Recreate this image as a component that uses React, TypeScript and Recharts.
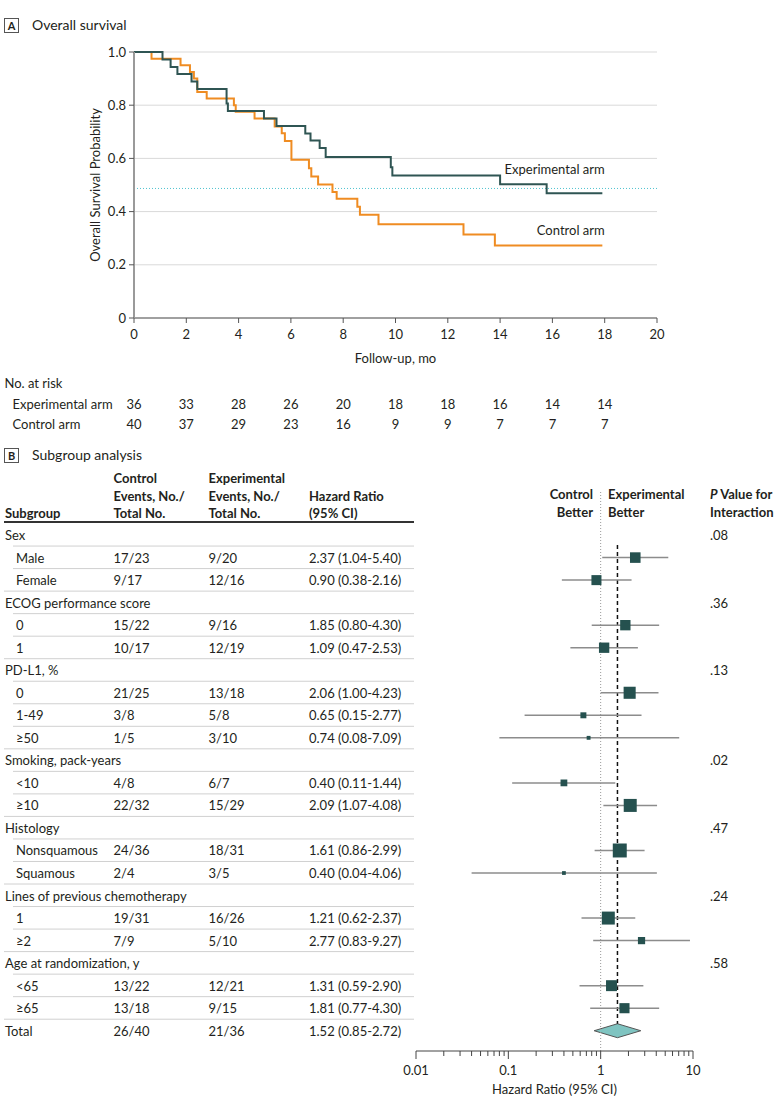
import React from "react";
import {
  LineChart,
  Line,
  XAxis,
  YAxis,
  CartesianGrid,
  ReferenceLine,
  ReferenceDot,
  ComposedChart,
  Scatter,
  Area,
} from "recharts";

const FONT = "Lato, 'DejaVu Sans', sans-serif";
const INK = "#231f20";
const EXP_COLOR = "#2f5553";
const CTL_COLOR = "#ef8c22";
const SQUARE = "#25514f";

// Panel A: Kaplan-Meier steps (months, survival after the step)
const expMonths = [0, 1.09, 1.4, 1.66, 2.2, 2.42, 3.54, 3.59, 4.97, 5.45, 6.55, 6.75, 7.1, 7.33, 9.82, 9.88, 14.0, 15.78, 17.91];
const expSurvival = [1, 0.972, 0.944, 0.917, 0.889, 0.861, 0.806, 0.778, 0.75, 0.722, 0.694, 0.667, 0.639, 0.605, 0.567, 0.536, 0.503, 0.469, 0.469];
const ctlMonths = [0, 0.67, 1.78, 2.14, 2.29, 2.42, 2.78, 3.82, 3.89, 4.61, 5.38, 5.65, 5.77, 6.02, 6.69, 6.78, 7.04, 7.59, 7.75, 8.54, 8.64, 9.35, 12.6, 13.8, 17.91];
const ctlSurvival = [1, 0.975, 0.95, 0.925, 0.9, 0.85, 0.825, 0.8, 0.775, 0.75, 0.72, 0.695, 0.665, 0.595, 0.563, 0.532, 0.502, 0.474, 0.448, 0.418, 0.388, 0.352, 0.314, 0.273, 0.273];
const medianLine = 0.487;
const kmTicks = [0, 2, 4, 6, 8, 10, 12, 14, 16, 18, 20];
const survTicks = [0, 0.2, 0.4, 0.6, 0.8, 1.0];
const expAtRisk = [36, 33, 28, 26, 20, 18, 18, 16, 14, 14];
const ctlAtRisk = [40, 37, 29, 23, 16, 9, 9, 7, 7, 7];

// Panel B: subgroup table
const subgroups = ["Sex", "Male", "Female", "ECOG performance score", "0", "1", "PD-L1, %", "0", "1-49", "≥50", "Smoking, pack-years", "<10", "≥10", "Histology", "Nonsquamous", "Squamous", "Lines of previous chemotherapy", "1", "≥2", "Age at randomization, y", "<65", "≥65", "Total"];
const isGroupRow = [true, false, false, true, false, false, true, false, false, false, true, false, false, true, false, false, true, false, false, true, false, false, true];
const controlEvents = ["", "17/23", "9/17", "", "15/22", "10/17", "", "21/25", "3/8", "1/5", "", "4/8", "22/32", "", "24/36", "2/4", "", "19/31", "7/9", "", "13/22", "13/18", "26/40"];
const experimentalEvents = ["", "9/20", "12/16", "", "9/16", "12/19", "", "13/18", "5/8", "3/10", "", "6/7", "15/29", "", "18/31", "3/5", "", "16/26", "5/10", "", "12/21", "9/15", "21/36"];
const hazardRatio = [null, 2.37, 0.9, null, 1.85, 1.09, null, 2.06, 0.65, 0.74, null, 0.4, 2.09, null, 1.61, 0.4, null, 1.21, 2.77, null, 1.31, 1.81, 1.52];
const ciLower = [null, 1.04, 0.38, null, 0.8, 0.47, null, 1.0, 0.15, 0.08, null, 0.11, 1.07, null, 0.86, 0.04, null, 0.62, 0.83, null, 0.59, 0.77, 0.85];
const ciUpper = [null, 5.4, 2.16, null, 4.3, 2.53, null, 4.23, 2.77, 7.09, null, 1.44, 4.08, null, 2.99, 4.06, null, 2.37, 9.27, null, 2.9, 4.3, 2.72];
const pInteraction = [".08", "", "", ".36", "", "", ".13", "", "", "", ".02", "", "", ".47", "", "", ".24", "", "", ".58", "", "", ""];
const hrMajorTicks = [0.01, 0.1, 1, 10];

const hrTicks: number[] = [];
hrMajorTicks.slice(0, -1).forEach((d) => {
  for (let k = 1; k <= 9; k++) hrTicks.push(Number((k * d).toPrecision(3)));
});
hrTicks.push(hrMajorTicks[hrMajorTicks.length - 1]);

const rowIdx = subgroups.map((_, i) => i);
const TOTAL = subgroups.length - 1;

function KmTick(props: any) {
  const { x, y, payload } = props;
  const i = kmTicks.indexOf(payload.value);
  return (
    <g fontFamily={FONT} fontSize={13} fill={INK}>
      <text x={x} y={y + 8} textAnchor="middle" dominantBaseline="central">
        {payload.value}
      </text>
      {i < expAtRisk.length && (
        <>
          <text x={x} y={y + 78} textAnchor="middle" dominantBaseline="central">
            {expAtRisk[i]}
          </text>
          <text x={x} y={y + 98} textAnchor="middle" dominantBaseline="central">
            {ctlAtRisk[i]}
          </text>
        </>
      )}
    </g>
  );
}

const kmXLabel = (props: any) => {
  const vb = props.viewBox ?? { x: 134, y: 318, width: 523, height: 122 };
  return (
    <g fontFamily={FONT} fontSize={13} fill={INK}>
      <text x={vb.x + vb.width / 2} y={vb.y + 40} textAnchor="middle" dominantBaseline="central">
        Follow-up, mo
      </text>
      <text x={4.5} y={vb.y + 65} dominantBaseline="central">No. at risk</text>
      <text x={12.5} y={vb.y + 86} dominantBaseline="central">Experimental arm</text>
      <text x={12.5} y={vb.y + 106} dominantBaseline="central">Control arm</text>
    </g>
  );
};

const kmYLabel = (props: any) => {
  const vb = props.viewBox ?? { x: 0, y: 52, width: 134, height: 266 };
  const cx = 95;
  const cy = vb.y + vb.height / 2;
  return (
    <text
      x={cx}
      y={cy}
      transform={`rotate(-90 ${cx} ${cy})`}
      textAnchor="middle"
      dominantBaseline="central"
      fontFamily={FONT}
      fontSize={13}
      fill={INK}
    >
      Overall Survival Probability
    </text>
  );
};

function SurvivalChart() {
  const exp = expMonths.map((m, i) => ({ month: m, surv: expSurvival[i] }));
  const ctl = ctlMonths.map((m, i) => ({ month: m, surv: ctlSurvival[i] }));
  return (
    <LineChart width={679} height={440} margin={{ top: 52, right: 22, bottom: 0, left: 0 }}>
      <CartesianGrid vertical={false} stroke="#d9d9d9" />
      <XAxis
        type="number"
        dataKey="month"
        domain={[0, 20]}
        ticks={kmTicks}
        interval={0}
        allowDataOverflow
        height={122}
        axisLine={{ stroke: "#555" }}
        tickLine={{ stroke: "#555" }}
        tickSize={5}
        tickMargin={3}
        tick={<KmTick />}
        label={kmXLabel}
      />
      <YAxis
        type="number"
        domain={[0, 1]}
        ticks={survTicks}
        interval={0}
        width={134}
        axisLine={{ stroke: "#9a9a9a", strokeWidth: 2 }}
        tickLine={{ stroke: "#555" }}
        tickSize={5}
        tickMargin={3}
        tickFormatter={(v) => (v === 0 ? "0" : v.toFixed(1))}
        tick={{ fontSize: 13, fill: INK, fontFamily: FONT }}
        label={kmYLabel}
      />
      <ReferenceLine y={medianLine} stroke="#4fc3cf" strokeDasharray="1 2" />
      <Line
        data={ctl}
        dataKey="surv"
        type="stepAfter"
        stroke={CTL_COLOR}
        strokeWidth={2}
        dot={false}
        isAnimationActive={false}
      />
      <Line
        data={exp}
        dataKey="surv"
        type="stepAfter"
        stroke={EXP_COLOR}
        strokeWidth={2}
        dot={false}
        isAnimationActive={false}
      />
      <ReferenceDot
        x={18}
        y={0.558}
        r={0}
        fill="none"
        stroke="none"
        label={{ value: "Experimental arm", position: "left", offset: 0, fontSize: 13, fill: INK, fontFamily: FONT }}
      />
      <ReferenceDot
        x={18}
        y={0.33}
        r={0}
        fill="none"
        stroke="none"
        label={{ value: "Control arm", position: "left", offset: 0, fontSize: 13, fill: INK, fontFamily: FONT }}
      />
    </LineChart>
  );
}

function RowTick(props: any) {
  const { y, payload } = props;
  const i = payload.value;
  const group = isGroupRow[i];
  const nextIsGroup = i + 1 < subgroups.length && isGroupRow[i + 1];
  const hr = hazardRatio[i];
  return (
    <g fontFamily={FONT} fontSize={13} fill={INK}>
      {i === 0 && <line x1={4} x2={414} y1={y - 13} y2={y - 13} stroke="#333" strokeWidth={2} />}
      <text x={group ? 5 : 16} y={y} dominantBaseline="central">{subgroups[i]}</text>
      <text x={113.5} y={y} dominantBaseline="central">{controlEvents[i]}</text>
      <text x={208.5} y={y} dominantBaseline="central">{experimentalEvents[i]}</text>
      {hr != null && (
        <text x={309} y={y} dominantBaseline="central">
          {`${hr.toFixed(2)} (${ciLower[i]!.toFixed(2)}-${ciUpper[i]!.toFixed(2)})`}
        </text>
      )}
      <text x={710} y={y} dominantBaseline="central">{pInteraction[i]}</text>
      {i < TOTAL && (
        <line x1={nextIsGroup ? 4 : 13} x2={414} y1={y + 11} y2={y + 11} stroke="#d0d0d0" />
      )}
    </g>
  );
}

function HrTick(props: any) {
  const { x, y, payload } = props;
  const v = payload.value;
  const major = hrMajorTicks.includes(v);
  return (
    <g>
      <line x1={x} x2={x} y1={y} y2={y + (major ? 8 : 5)} stroke="#444" />
      {major && (
        <text x={x} y={y + 19} textAnchor="middle" dominantBaseline="central" fontFamily={FONT} fontSize={13} fill={INK}>
          {v}
        </text>
      )}
    </g>
  );
}

const hrLabel = (props: any) => {
  const vb = props.viewBox ?? { x: 416, y: 1051, width: 277, height: 55 };
  return (
    <text x={vb.x + vb.width / 2} y={vb.y + 38} textAnchor="middle" dominantBaseline="central" fontFamily={FONT} fontSize={13} fill={INK}>
      Hazard Ratio (95% CI)
    </text>
  );
};

const renderSquare = (props: any) => {
  const { cx, cy, payload } = props;
  const s = payload.side;
  return <rect x={cx - s / 2} y={cy - s / 2} width={s} height={s} fill={SQUARE} />;
};

function ForestChart() {
  const points = rowIdx
    .filter((i) => hazardRatio[i] != null && i !== TOTAL)
    .map((i) => ({
      x: hazardRatio[i] as number,
      y: i,
      lo: ciLower[i] as number,
      hi: ciUpper[i] as number,
      side: 17.4 / Math.log((ciUpper[i] as number) / (ciLower[i] as number)),
    }));
  const diamond = [
    { x: ciLower[TOTAL], band: [TOTAL, TOTAL] },
    { x: hazardRatio[TOTAL], band: [TOTAL - 0.31, TOTAL + 0.31] },
    { x: ciUpper[TOTAL], band: [TOTAL, TOTAL] },
  ];
  return (
    <ComposedChart width={780} height={666} data={diamond} margin={{ top: 50, right: 87, bottom: 0, left: 0 }}>
      <XAxis
        type="number"
        dataKey="x"
        scale="log"
        domain={[0.01, 10]}
        ticks={hrTicks}
        interval={0}
        allowDataOverflow
        height={55}
        axisLine={{ stroke: "#444" }}
        tickLine={false}
        tickSize={0}
        tickMargin={0}
        tick={<HrTick />}
        label={hrLabel}
      />
      <YAxis
        type="number"
        dataKey="y"
        domain={[-2, 22.9]}
        reversed
        allowDataOverflow
        ticks={rowIdx}
        interval={0}
        width={416}
        axisLine={false}
        tickLine={false}
        tickSize={0}
        tickMargin={0}
        tick={<RowTick />}
      />
      <ReferenceLine x={1} stroke="#9a9a9a" strokeDasharray="1 2" />
      <ReferenceLine
        segment={[
          { x: hazardRatio[TOTAL], y: 0.44 },
          { x: hazardRatio[TOTAL], y: TOTAL - 0.31 },
        ]}
        stroke="#111"
        strokeWidth={1.5}
        strokeDasharray="4 3"
      />
      {points.map((p) => (
        <ReferenceLine
          key={p.y}
          segment={[
            { x: p.lo, y: p.y },
            { x: p.hi, y: p.y },
          ]}
          stroke="#8c8c8c"
          strokeWidth={1.5}
        />
      ))}
      <Area
        dataKey="band"
        type="linear"
        fill="#7fc4c1"
        fillOpacity={1}
        stroke="#555"
        strokeWidth={1}
        isAnimationActive={false}
      />
      <Scatter data={points} dataKey="y" shape={renderSquare} isAnimationActive={false} />
    </ComposedChart>
  );
}

function T(props: { x: number; y: number; right?: boolean; bold?: boolean; size?: number; children: React.ReactNode }) {
  const { x, y, right, bold, size = 13, children } = props;
  const style: React.CSSProperties = {
    position: "absolute",
    top: y - 9,
    lineHeight: "18px",
    fontSize: size,
    fontWeight: bold ? 700 : 400,
    whiteSpace: "nowrap",
  };
  if (right) style.right = 780 - x;
  else style.left = x;
  return <div style={style}>{children}</div>;
}

function PanelTag({ letter, title, cy }: { letter: string; title: string; cy: number }) {
  return (
    <>
      <div
        style={{
          position: "absolute",
          left: 4,
          top: cy - 7,
          width: 13,
          height: 13,
          border: "1px solid #555",
          fontSize: 11,
          fontWeight: 700,
          lineHeight: "13px",
          textAlign: "center",
        }}
      >
        {letter}
      </div>
      <T x={32} y={cy} size={14}>{title}</T>
    </>
  );
}

export default function App() {
  return (
    <div
      style={{
        position: "absolute",
        left: 0,
        top: 0,
        width: 780,
        height: 1106,
        background: "#fff",
        fontFamily: FONT,
        color: INK,
        overflow: "hidden",
      }}
    >
      <div style={{ position: "absolute", left: 0, top: 0 }}>
        <SurvivalChart />
      </div>
      <div style={{ position: "absolute", left: 0, top: 440 }}>
        <ForestChart />
      </div>
      <PanelTag letter="A" title="Overall survival" cy={25} />
      <PanelTag letter="B" title="Subgroup analysis" cy={455} />

      <T x={5} y={513} bold>Subgroup</T>
      <T x={113.5} y={478} bold>Control</T>
      <T x={113.5} y={496} bold>Events, No./</T>
      <T x={113.5} y={513} bold>Total No.</T>
      <T x={208.5} y={478} bold>Experimental</T>
      <T x={208.5} y={496} bold>Events, No./</T>
      <T x={208.5} y={513} bold>Total No.</T>
      <T x={309} y={496} bold>Hazard Ratio</T>
      <T x={309} y={513} bold>(95% CI)</T>
      <T x={593} y={494} right bold>Control</T>
      <T x={593} y={512} right bold>Better</T>
      <T x={608} y={494} bold>Experimental</T>
      <T x={608} y={512} bold>Better</T>
      <T x={710} y={494} bold>
        <i>P</i> Value for
      </T>
      <T x={710} y={512} bold>Interaction</T>
    </div>
  );
}
